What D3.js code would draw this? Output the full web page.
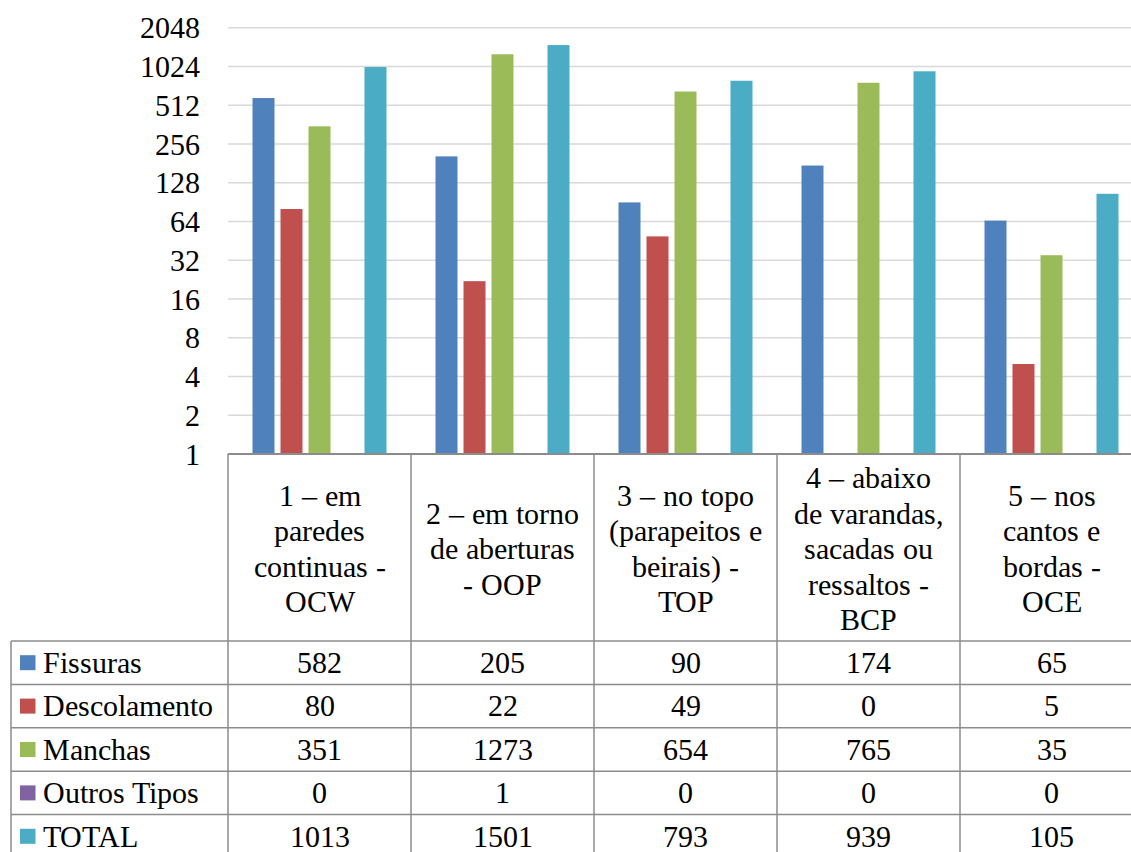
<!DOCTYPE html>
<html>
<head>
<meta charset="utf-8">
<script src="https://cdn.jsdelivr.net/npm/d3@7"></script>
<style>
  @font-face {
    font-family: "RefSerif";
    src: local("Liberation Serif"), local("LiberationSerif"), local("LiberationSerif-Regular"),
         local("Times New Roman"), local("DejaVu Serif"), local("DejaVuSerif");
  }
  html, body { margin: 0; padding: 0; background: #ffffff; }
  svg { display: block; }
  svg text { font-family: "RefSerif", "Liberation Serif", "DejaVu Serif", serif !important; fill: #000; }
</style>
</head>
<body>
<svg id="chart" width="1131" height="852"></svg>
<script>
// ---- Data ----
const categoryLines = [
  ["1 – em", "paredes", "continuas -", "OCW"],
  ["2 – em torno", "de aberturas", "- OOP"],
  ["3 – no topo", "(parapeitos e", "beirais) -", "TOP"],
  ["4 – abaixo", "de varandas,", "sacadas ou", "ressaltos -", "BCP"],
  ["5 – nos", "cantos e", "bordas -", "OCE"]
];
const seriesNames = ["Fissuras", "Descolamento", "Manchas", "Outros Tipos", "TOTAL"];
const fissuras     = [582, 205, 90, 174, 65];
const descolamento = [80, 22, 49, 0, 5];
const manchas      = [351, 1273, 654, 765, 35];
const outrosTipos  = [0, 1, 0, 0, 0];
const total        = [1013, 1501, 793, 939, 105];
const yTicks = [1, 2, 4, 8, 16, 32, 64, 128, 256, 512, 1024, 2048];
const seriesColors = ["#4F81BD", "#C0504D", "#9BBB59", "#8064A2", "#4BACC6"];

const seriesValues = [fissuras, descolamento, manchas, outrosTipos, total];

// ---- Layout ----
const FONT = "RefSerif, 'Liberation Serif', 'DejaVu Serif', serif";
const svg = d3.select("#chart");
const plotLeft = 228, catW = 183;
const plotRight = plotLeft + catW * categoryLines.length;
const plotTop = 27.7, plotBottom = 454;
const headerBottom = 641;
const rowH = 43.4;
const tableLeft = 11;
const fs = 30;

const y = d3.scaleLog().base(2).domain([1, 2048]).range([plotBottom, plotTop]);
const x0 = d3.scaleBand().domain(d3.range(categoryLines.length)).range([plotLeft, plotRight]);
const x1 = d3.scaleBand().domain(d3.range(seriesNames.length)).range([0, catW])
  .paddingInner(6 / 28).paddingOuter(0.875);

// Gridlines
svg.append("g").selectAll("line").data(yTicks.slice(1)).join("line")
  .attr("x1", plotLeft).attr("x2", plotRight)
  .attr("y1", d => y(d)).attr("y2", d => y(d))
  .attr("stroke", "#d9d9d9").attr("stroke-width", 1.5);

// Y axis labels
const yAxis = d3.axisLeft(y).tickValues(yTicks).tickFormat(d3.format("d")).tickSize(0).tickPadding(0);
const yg = svg.append("g").attr("transform", `translate(200,0)`).call(yAxis);
yg.attr("font-family", FONT).attr("font-size", fs);
yg.select(".domain").remove();
yg.selectAll("text").attr("fill", "#000").attr("dy", "0.34em");

// Bars
const barData = [];
seriesValues.forEach((vals, s) => vals.forEach((v, c) => barData.push({ s, c, v })));
svg.append("g").selectAll("rect").data(barData).join("rect")
  .attr("x", d => x0(d.c) + x1(d.s))
  .attr("width", x1.bandwidth())
  .attr("y", d => y(Math.max(d.v, 1)))
  .attr("height", d => plotBottom - y(Math.max(d.v, 1)))
  .attr("fill", d => seriesColors[d.s]);

// Table lines
const tg = svg.append("g").attr("stroke", "#8c8c8c").attr("stroke-width", 1.5).attr("fill", "none");
const tableBottom = headerBottom + rowH * seriesNames.length;
tg.append("line").attr("x1", plotLeft).attr("x2", plotRight).attr("y1", plotBottom).attr("y2", plotBottom).attr("stroke-width", 2);
d3.range(categoryLines.length + 1).forEach(i => {
  const xx = plotLeft + i * catW;
  tg.append("line").attr("x1", xx).attr("x2", xx).attr("y1", plotBottom).attr("y2", tableBottom);
});
tg.append("line").attr("x1", tableLeft).attr("x2", tableLeft).attr("y1", headerBottom).attr("y2", tableBottom);
d3.range(seriesNames.length + 1).forEach(i => {
  const yy = headerBottom + i * rowH;
  tg.append("line").attr("x1", tableLeft).attr("x2", plotRight).attr("y1", yy).attr("y2", yy);
});

// Category header text
const headerMid = (plotBottom + headerBottom) / 2 + 1.5;
const lh = 35.5;
categoryLines.forEach((lines, c) => {
  const cx = x0(c) + catW / 2;
  const startY = headerMid - (lines.length - 1) * lh / 2;
  const t = svg.append("text").attr("text-anchor", "middle").attr("font-size", fs).attr("font-family", FONT);
  lines.forEach((ln, i) => {
    t.append("tspan").attr("x", cx).attr("y", startY + i * lh).attr("dy", "0.34em").text(ln);
  });
});

// Legend keys + row labels + values
seriesNames.forEach((name, s) => {
  const cy = headerBottom + s * rowH + rowH / 2;
  svg.append("rect").attr("x", 20).attr("y", cy - 7.5).attr("width", 15.5).attr("height", 15)
    .attr("fill", seriesColors[s]);
  svg.append("text").attr("x", 43).attr("y", cy).attr("dy", "0.34em").attr("font-size", fs)
    .attr("font-family", FONT).text(name);
  seriesValues[s].forEach((v, c) => {
    svg.append("text").attr("x", x0(c) + catW / 2).attr("y", cy).attr("dy", "0.34em")
      .attr("text-anchor", "middle").attr("font-size", fs).attr("font-family", FONT).text(v);
  });
});
</script>
</body>
</html>
